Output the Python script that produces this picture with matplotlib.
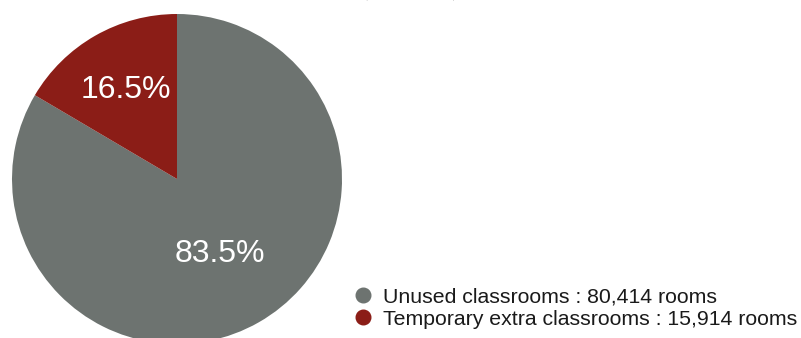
import numpy as np
import matplotlib.pyplot as plt
from matplotlib.lines import Line2D

# data
labels = ['Unused classrooms : 80,414 rooms',
          'Temporary extra classrooms : 15,914 rooms']
rooms = [80414, 15914]
colors = ['#6d7370', '#8b1d17']
label_dist = [0.52, 0.62]   # radial position of the % labels

fig = plt.figure(figsize=(8.01, 3.38), dpi=100)

# cropped line of the surrounding document text (only descenders visible)
fig.text(0.005, 1.0 + 4.5/338, 'the capacity of the available rooms (Figure 4)',
         family='Liberation Serif', fontsize=18, color='black',
         ha='left', va='baseline')

ax = fig.add_axes([12/801, -6/338, 330/801, 330/338])
wedges, texts, autotexts = ax.pie(
    rooms, colors=colors, startangle=90, counterclock=False,
    autopct=lambda p: f'{p:.1f}%', wedgeprops=dict(linewidth=0),
    textprops=dict(color='white', fontsize=23, family='Liberation Sans'))
for w, t, d in zip(wedges, autotexts, label_dist):
    ang = np.deg2rad((w.theta1 + w.theta2) / 2)
    t.set_position((d*np.cos(ang), d*np.sin(ang)))
ax.set_xlim(-1, 1)
ax.set_ylim(-1, 1)
ax.set_aspect('equal')
ax.axis('off')

handles = [Line2D([], [], marker='o', linestyle='', markersize=10.5,
                  markerfacecolor=c, markeredgecolor=c) for c in colors]
fig.legend(handles, labels, loc='center left',
           bbox_to_anchor=(350/801, 1 - 308/338), frameon=False,
           prop=dict(family='Liberation Sans', size=15.3),
           handletextpad=0.35, labelspacing=0.15, handlelength=1.2,
           borderpad=0, borderaxespad=0, labelcolor='#1a1a1a')

fig.savefig('out.png', dpi=100)
